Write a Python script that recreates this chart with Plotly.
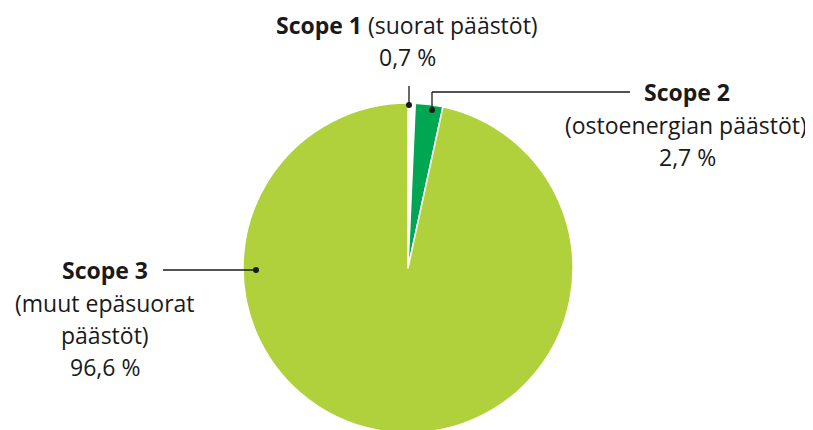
import plotly.graph_objects as go

labels = ["Scope 1", "Scope 2", "Scope 3"]
values = [0.7, 2.7, 96.6]
colors = ["#ffffff", "#00a651", "#b0d13b"]

W, H = 813, 430
OFF = 8  # page body margin
FONT = "Open Sans"
FS = 23
TXT = "#1a1a1a"

def px(x, y):
    return (x - OFF) / W, 1 - (y - OFF) / H

fig = go.Figure(go.Pie(
    labels=labels, values=values, sort=False, direction="clockwise",
    rotation=0, marker=dict(colors=colors, line=dict(color="#ffffff", width=1.5)),
    textinfo="none", hoverinfo="label+percent", showlegend=False,
    domain=dict(x=[0, 800 / 813], y=[5 / 430, 335 / 430]),
))

ann = [
    (407, 25, "<b>Scope 1</b> (suorat päästöt)"),
    (407, 57, "0,7 %"),
    (687, 92, "<b>Scope 2</b>"),
    (686, 125, "(ostoenergian päästöt)"),
    (687, 157, "2,7 %"),
    (105, 270, "<b>Scope 3</b>"),
    (105, 303, "(muut epäsuorat"),
    (105, 335, "päästöt)"),
    (105, 367, "96,6 %"),
]
annotations = []
for x, y, t in ann:
    xx, yy = px(x, y)
    annotations.append(dict(x=xx, y=yy, xref="paper", yref="paper", text=t,
                            showarrow=False, xanchor="center", yanchor="middle",
                            font=dict(family=FONT, size=FS, color=TXT)))

shapes = []
def line(x0, y0, x1, y1):
    a, b = px(x0, y0); c, d = px(x1, y1)
    shapes.append(dict(type="line", xref="paper", yref="paper", x0=a, y0=b, x1=c, y1=d,
                       line=dict(color="#1a1a1a", width=1.3)))
def dot(x, y, r=3):
    a, b = px(x - r, y - r); c, d = px(x + r, y + r)
    shapes.append(dict(type="circle", xref="paper", yref="paper", x0=a, y0=d, x1=c, y1=b,
                       fillcolor="#1a1a1a", line=dict(width=0)))

line(409, 86, 409, 105); dot(409, 105)
line(432, 92, 432, 110); line(432, 92, 630, 92); dot(432, 110)
line(163, 270, 256, 270); dot(256, 270)

fig.update_layout(width=W, height=H, margin=dict(l=0, r=0, t=0, b=0),
                  paper_bgcolor="#ffffff", annotations=annotations, shapes=shapes)
fig.write_html("out.html")
